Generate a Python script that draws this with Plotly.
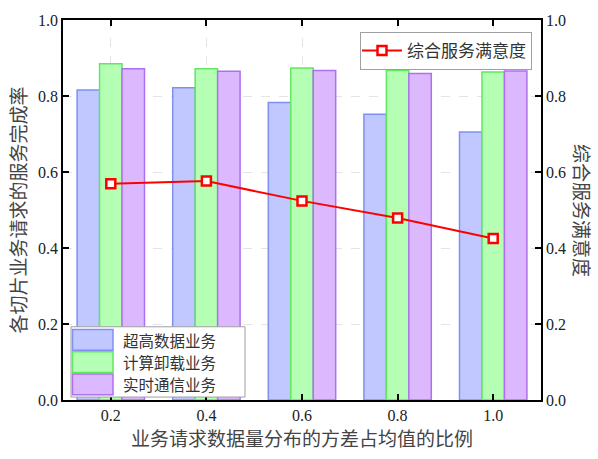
import plotly.graph_objects as go

# ---- data ----
x_vals = [0.2, 0.4, 0.6, 0.8, 1.0]
x_labels = ["0.2", "0.4", "0.6", "0.8", "1.0"]
ultra_high_data = [0.816, 0.822, 0.783, 0.752, 0.705]
compute_offload = [0.885, 0.872, 0.874, 0.867, 0.863]
realtime_comm = [0.872, 0.865, 0.867, 0.859, 0.866]
satisfaction = [0.569, 0.576, 0.524, 0.479, 0.425]
bar_names = ["超高数据业务", "计算卸载业务", "实时通信业务"]
line_name = "综合服务满意度"
x_title = "业务请求数据量分布的方差占均值的比例"
y_title = "各切片业务请求的服务完成率"
y2_title = "综合服务满意度"

fills = ["#c0c8ff", "#b4ffb4", "#dcb8ff"]
borders = ["#8090f2", "#60e860", "#ae70f0"]

W, H = 598, 459
L, R, T, B = 63, 541, 16, 400
pw, ph = R - L, B - T


def px(xp):
    return (xp - L) / pw


def py(yp):
    return (B - yp) / ph


cjk = "Noto Sans CJK SC"
serif = "Liberation Serif"

fig = go.Figure()
bw = 0.047
series = [ultra_high_data, compute_offload, realtime_comm]
for i, vals in enumerate(series):
    fig.add_trace(go.Bar(
        x=x_vals, y=vals, name=bar_names[i],
        width=bw, offset=-1.5 * bw + i * bw,
        marker=dict(color=fills[i], line=dict(color=borders[i], width=1.5)),
        showlegend=False,
    ))

fig.add_trace(go.Scatter(
    x=x_vals, y=satisfaction, name=line_name, yaxis="y2",
    mode="lines+markers",
    line=dict(color="#ff0000", width=2),
    marker=dict(symbol="square", size=9, color="white",
                line=dict(color="#ff0000", width=2.5)),
))

# custom bar legend
shapes = []
annotations = []
bx0, bx1, by0, by1 = 71, 245, 326, 397
shapes.append(dict(type="rect", xref="paper", yref="paper",
                   x0=px(bx0), x1=px(bx1), y0=py(by1), y1=py(by0),
                   fillcolor="white", line=dict(color="#a0a0a0", width=1), layer="above"))
row_h = 22.5
row_top = 328
for i in range(3):
    r0 = row_top + i * row_h
    r1 = r0 + row_h
    shapes.append(dict(type="rect", xref="paper", yref="paper",
                       x0=px(72.5), x1=px(113), y0=py(r1 - 0.75), y1=py(r0 + 0.75),
                       fillcolor=fills[i], line=dict(color=borders[i], width=1.5), layer="above"))
    annotations.append(dict(xref="paper", yref="paper", x=px(121), y=py((r0 + r1) / 2),
                            text=bar_names[i], showarrow=False, xanchor="left", yanchor="middle",
                            font=dict(family=cjk, size=15.5, color="#333")))

annotations.append(dict(xref="paper", yref="paper", x=px(583), y=0.5, text=y2_title,
                        textangle=90, showarrow=False, xanchor="center", yanchor="middle",
                        font=dict(family=cjk, size=19, color="#444")))

axis_common = dict(showline=True, linecolor="black", linewidth=1.5, ticks="inside",
                   ticklen=6, tickcolor="black", tickwidth=1.5,
                   tickfont=dict(family=serif, size=16, color="#222"))

fig.update_layout(
    width=W, height=H,
    margin=dict(l=L, r=W - R, t=T, b=H - B),
    plot_bgcolor="white", paper_bgcolor="white",
    barmode="overlay",
    xaxis=dict(range=[0.1, 1.1], tickvals=x_vals, ticktext=x_labels, mirror="ticks",
               showgrid=True, gridcolor="#e4e4e4", griddash="dash", gridwidth=1,
               title=dict(text=x_title, font=dict(family=cjk, size=19, color="#444"), standoff=6),
               **axis_common),
    yaxis=dict(range=[0, 1], tickvals=[0, 0.2, 0.4, 0.6, 0.8, 1.0],
               ticktext=["0.0", "0.2", "0.4", "0.6", "0.8", "1.0"],
               showgrid=True, gridcolor="#e4e4e4", griddash="dash", gridwidth=1,
               zeroline=False,
               title=dict(text=y_title, font=dict(family=cjk, size=19, color="#444"), standoff=6),
               **axis_common),
    yaxis2=dict(range=[0, 1], overlaying="y", side="right",
                tickvals=[0, 0.2, 0.4, 0.6, 0.8, 1.0],
                ticktext=["0.0", "0.2", "0.4", "0.6", "0.8", "1.0"],
                showgrid=False, zeroline=False, **axis_common),
    legend=dict(x=px(532), y=py(28), xanchor="right", yanchor="top",
                bgcolor="white", bordercolor="#a0a0a0", borderwidth=1,
                font=dict(family=cjk, size=17, color="#333"), itemwidth=40,
                tracegroupgap=0, indentation=-4),
    shapes=shapes, annotations=annotations,
)

fig.write_html("out.html")
